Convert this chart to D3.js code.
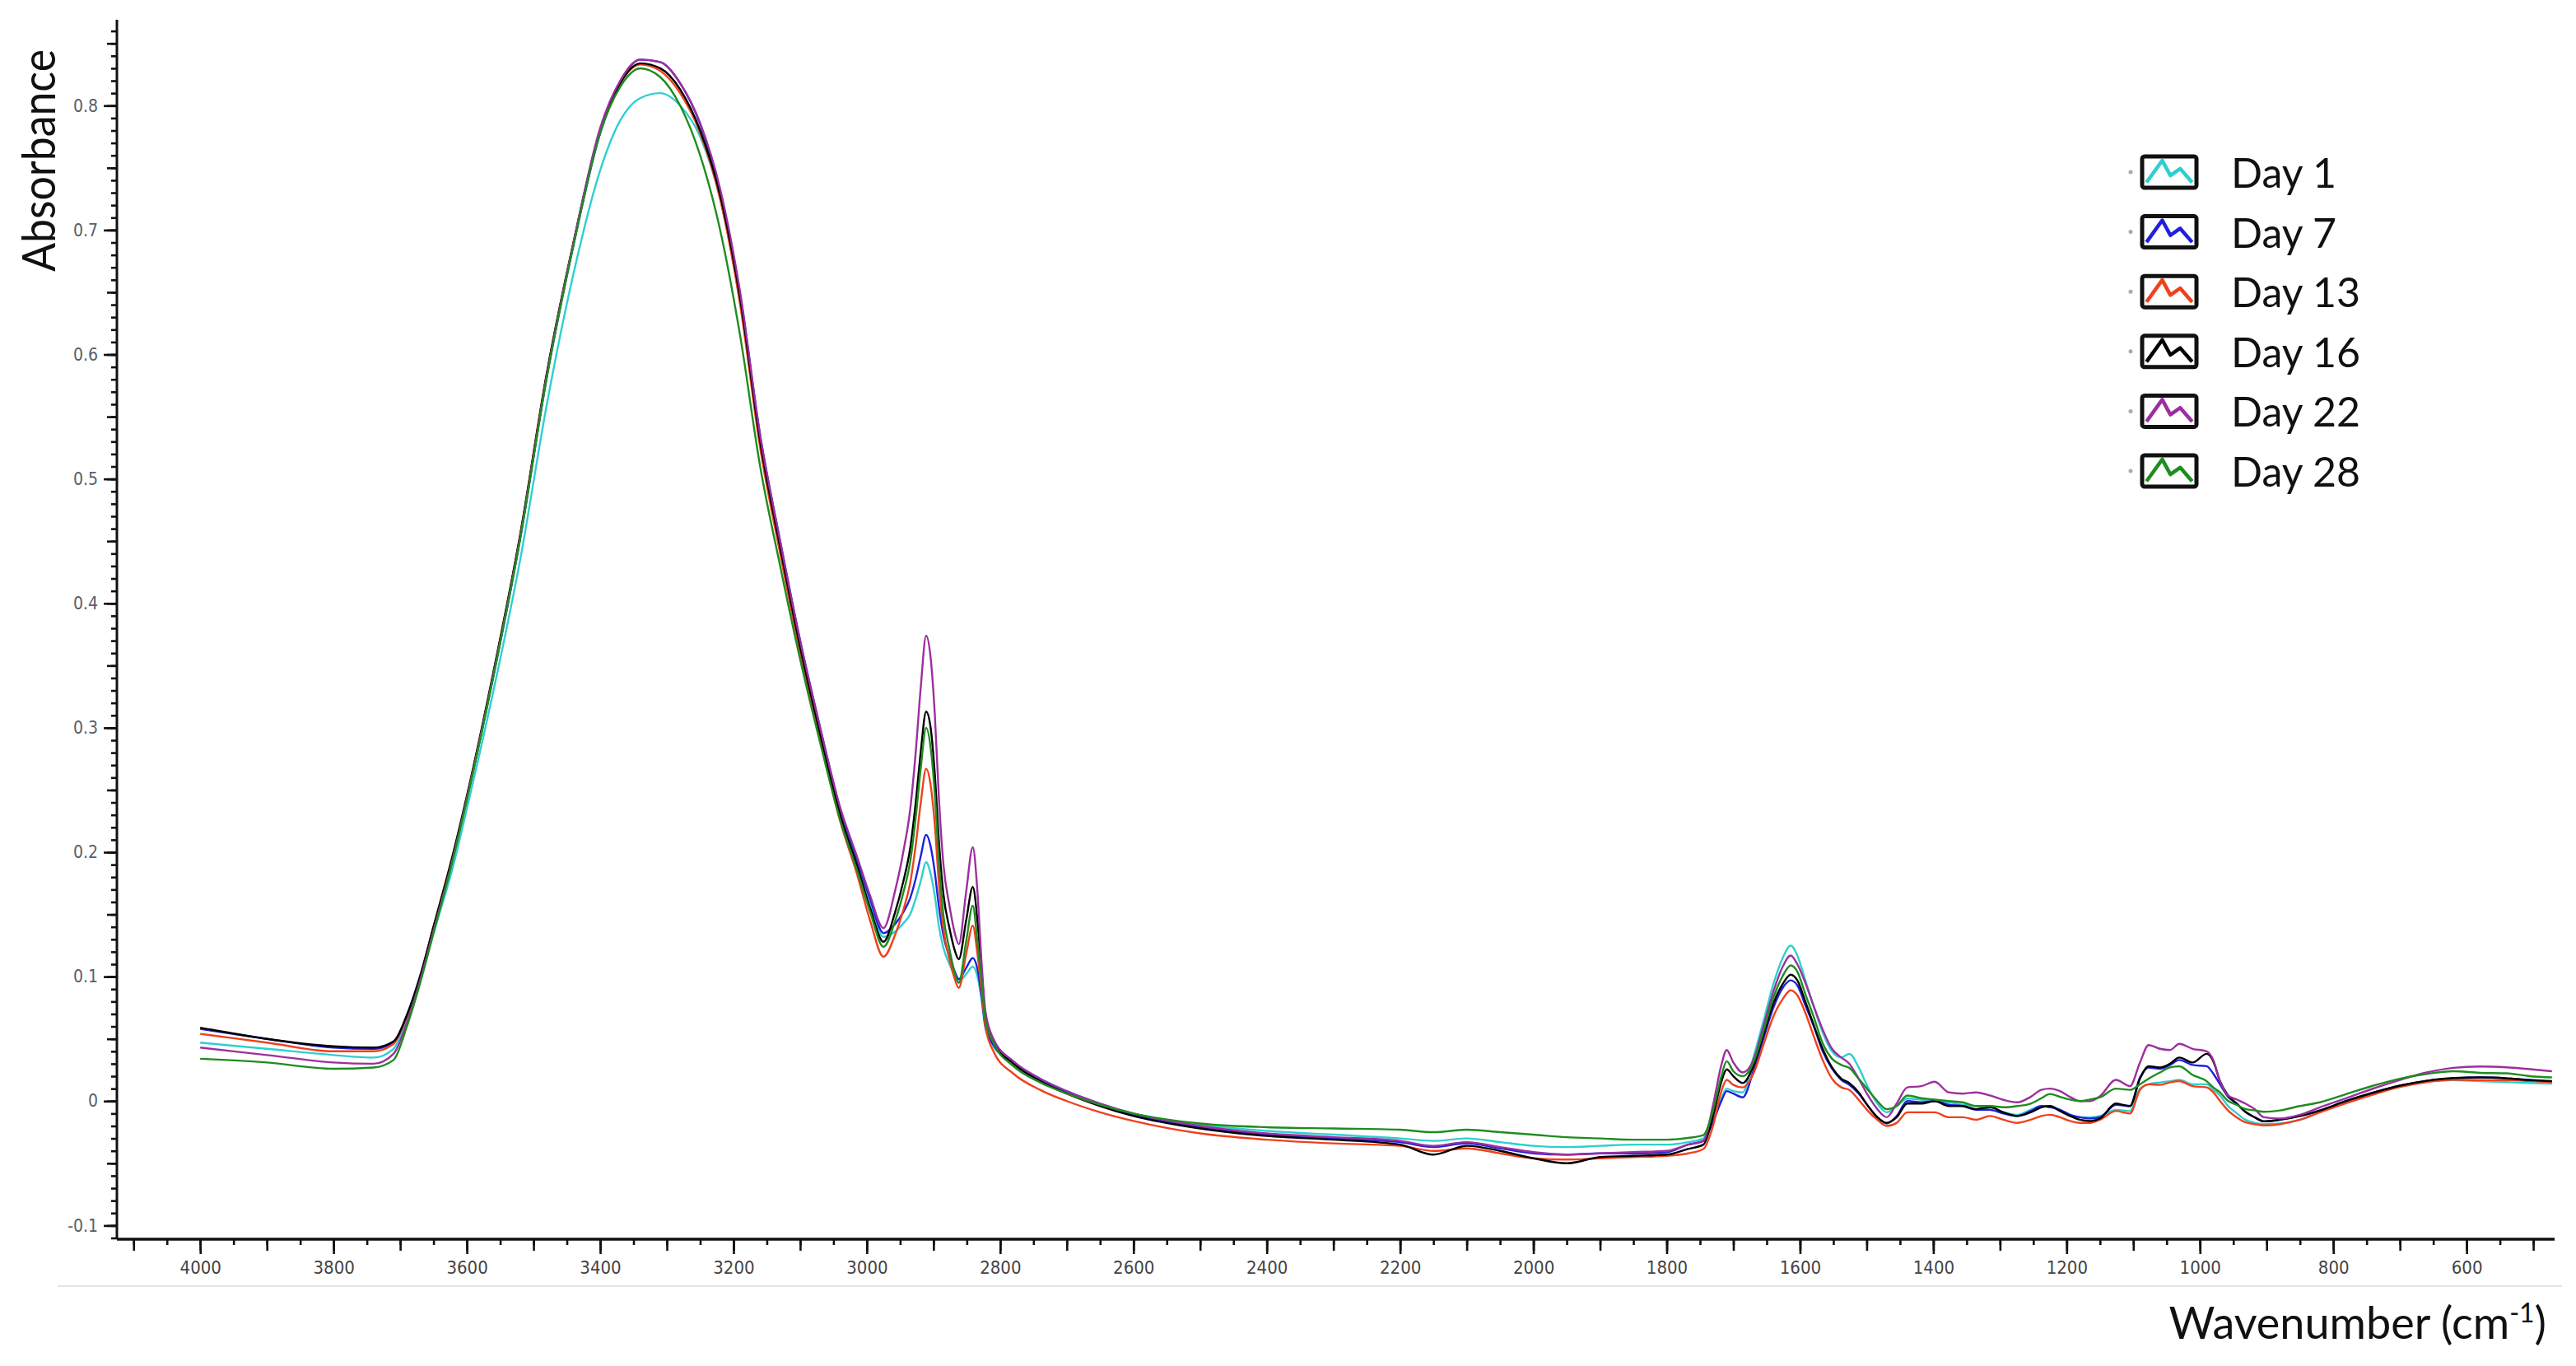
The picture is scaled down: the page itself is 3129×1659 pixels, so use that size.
<!DOCTYPE html>
<html>
<head>
<meta charset="utf-8">
<script src="https://cdn.jsdelivr.net/npm/d3@7"></script>
<style>
  body { margin: 0; background: #fff; }
  svg { display: block; }
</style>
</head>
<body>
<div id="chart"></div>
<script>
// wavenumber grid (cm-1), shared by every spectrum
const wavenumbers = [
  4000, 3900, 3800, 3740, 3710,
  3690, 3670, 3650, 3620, 3600, 3560, 3520, 3480, 3440, 3400, 3370, 3340, 3310, 3280, 3250, 3220, 3190, 3160, 3130, 3100, 3070, 3040, 3015, 2995,
  2975, 2958, 2945, 2935, 2927, 2919, 2911, 2904, 2898, 2892, 2885, 2876, 2868, 2862, 2851, 2841, 2834, 2828, 2822, 2810,
  2780, 2740, 2700, 2650, 2600, 2500, 2400, 2300, 2200, 2150, 2100, 2050, 2000, 1950, 1900, 1850, 1800,
  1768, 1745, 1730, 1718, 1710, 1700, 1686, 1670, 1655, 1640, 1626, 1614, 1604, 1592, 1580, 1566, 1552, 1538, 1526, 1512, 1498, 1484, 1470,
  1455, 1439, 1418, 1398, 1377, 1356, 1336, 1315, 1295, 1274, 1254, 1238, 1225, 1210, 1195, 1180, 1165, 1150,
  1126, 1105, 1090, 1077, 1060, 1045, 1031, 1011, 990, 980, 970, 958, 945, 932, 918, 904,
  880, 850, 820, 780, 740, 700, 660, 620, 580, 540, 505, 472
];

// absorbance
const day1 = [
  .047, .042, .037, .035, .042,
  .066, .098, .135, .19, .235, .33, .435, .56, .665, .748, .788, .806, .81, .80, .775, .725, .642, .53, .445, .365, .296, .232, .192, .157,
  .132, .136, .143, .150, .162, .177, .192, .182, .165, .141, .123, .110, .101, .096, .102, .108, .100, .082, .058, .044,
  .031, .018, .008, -.002, -.010, -.019, -.024, -.027, -.030, -.032, -.030, -.033, -.036, -.037, -.036, -.035, -.035,
  -.033, -.030, -.013, .002, .010, .008, .007, .035, .064, .094, .115, .125, .117, .097, .077, .055, .040, .035, .038, .027, .011, -.002, -.009,
  -.004, .002, .001, .000, -.001, -.003, -.004, -.007, -.009, -.011, -.007, -.004, -.004, -.007, -.011, -.013, -.013, -.012,
  -.007, -.008, .010, .0135, .015, .016, .017, .0135, .0135, .009, .0046, -.004, -.0097, -.015, -.0174, -.0185,
  -.018, -.015, -.0086, -.001, .0057, .0117, .0157, .0168, .016, .0152, .0146, .014
];
const day7 = [
  .058, .050, .043, .042, .047,
  .069, .101, .14, .198, .243, .342, .452, .582, .688, .778, .818, .837, .835, .818, .785, .73, .648, .535, .45, .37, .30, .235, .195, .162,
  .135, .142, .152, .163, .178, .197, .214, .204, .184, .157, .133, .116, .104, .098, .107, .115, .106, .085, .060, .045,
  .031, .017, .007, -.003, -.011, -.021, -.027, -.030, -.033, -.037, -.034, -.038, -.042, -.043, -.042, -.042, -.041,
  -.035, -.032, -.016, .000, .008, .006, .003, .024, .050, .075, .091, .097, .093, .077, .061, .040, .026, .017, .013, .006, -.004, -.013, -.018,
  -.012, .000, -.001, .000, -.003, -.004, -.007, -.007, -.010, -.012, -.008, -.004, -.005, -.007, -.011, -.013, -.014, -.013,
  -.003, -.004, .019, .027, .026, .029, .033, .029, .028, .022, .0135, .0035, -.002, -.0086, -.013, -.0163,
  -.015, -.012, -.0075, .0002, .0068, .0124, .0163, .0183, .019, .0183, .017, .016
];
const day13 = [
  .054, .047, .040, .040, .046,
  .068, .10, .14, .20, .245, .345, .455, .585, .69, .78, .818, .833, .828, .81, .778, .725, .64, .525, .44, .36, .29, .225, .183, .145,
  .116, .133, .154, .175, .204, .240, .267, .253, .222, .176, .138, .114, .098, .091, .118, .141, .118, .090, .060, .040,
  .022, .009, .000, -.009, -.016, -.026, -.031, -.034, -.036, -.040, -.038, -.042, -.046, -.047, -.046, -.045, -.044,
  -.042, -.0385, -.019, .008, .017, .013, .011, .022, .045, .068, .082, .089, .085, .071, .053, .033, .018, .011, .009, .001, -.008, -.015, -.020,
  -.0175, -.009, -.009, -.009, -.013, -.013, -.015, -.012, -.015, -.0175, -.015, -.012, -.011, -.013, -.016, -.0175, -.0175, -.015,
  -.008, -.010, .009, .0135, .013, .015, .016, .012, .011, .007, .0002, -.0075, -.013, -.017, -.0185, -.0196,
  -.0185, -.015, -.009, -.0015, .0053, .0113, .0152, .0172, .0168, .0168, .0161, .015
];
const day16 = [
  .059, .050, .044, .043, .048,
  .069, .10, .14, .20, .245, .345, .455, .585, .69, .78, .818, .834, .83, .813, .78, .728, .645, .53, .445, .365, .295, .23, .19, .155,
  .128, .151, .177, .203, .238, .281, .313, .299, .263, .210, .166, .139, .121, .114, .145, .172, .145, .105, .068, .048,
  .030, .016, .006, -.004, -.012, -.022, -.028, -.031, -.035, -.043, -.036, -.040, -.046, -.050, -.045, -.044, -.043,
  -.0385, -.035, -.011, .0156, .0255, .020, .0145, .028, .053, .0785, .094, .1016, .097, .080, .062, .042, .027, .018, .0145, .007, -.004, -.013, -.0175,
  -.013, -.002, -.002, .000, -.004, -.004, -.0065, -.005, -.009, -.012, -.009, -.005, -.004, -.008, -.012, -.015, -.016, -.014,
  -.002, -.004, .018, .028, .027, .030, .035, .031, .038, .032, .016, .0046, -.002, -.0086, -.013, -.0163,
  -.015, -.012, -.0075, .0002, .0068, .0124, .0163, .0185, .019, .0183, .0168, .016
];
const day22 = [
  .043, .037, .031, .030, .038,
  .063, .097, .137, .197, .243, .343, .453, .583, .69, .782, .82, .837, .835, .818, .786, .733, .65, .535, .45, .37, .30, .236, .197, .165,
  .139, .168, .201, .234, .278, .333, .374, .355, .311, .245, .190, .157, .135, .126, .168, .204, .168, .113, .072, .050,
  .032, .018, .008, -.002, -.010, -.020, -.026, -.029, -.032, -.036, -.033, -.037, -.041, -.043, -.042, -.041, -.040,
  -.035, -.032, -.002, .029, .041, .031, .023, .033, .060, .088, .108, .117, .110, .095, .077, .0575, .042, .035, .030, .018, .0045, -.0065, -.013,
  -.002, .011, .012, .0156, .007, .006, .007, .0045, .001, -.001, .0034, .009, .010, .008, .0034, .000, .000, .004,
  .017, .012, .031, .045, .042, .041, .046, .042, .040, .033, .016, .0046, .0013, -.002, -.0064, -.013,
  -.014, -.011, -.005, .0024, .0101, .017, .023, .0267, .0278, .0271, .0256, .024
];
const day28 = [
  .034, .031, .026, .027, .033,
  .060, .095, .135, .196, .242, .342, .452, .582, .688, .778, .815, .83, .823, .80, .76, .70, .615, .51, .43, .355, .288, .226, .186, .152,
  .124, .144, .168, .192, .226, .268, .300, .283, .247, .194, .149, .122, .103, .095, .128, .157, .128, .098, .065, .047,
  .028, .015, .006, -.003, -.010, -.018, -.021, -.022, -.023, -.025, -.023, -.025, -.027, -.029, -.030, -.031, -.031,
  -.0296, -.0274, -.0065, .020, .032, .024, .020, .031, .056, .083, .1005, .109, .104, .086, .0685, .0465, .034, .029, .0266, .018, .009, .000, -.0065,
  -.004, .0045, .0023, .0012, .000, -.001, -.004, -.004, -.005, -.004, -.002, .0023, .0057, .0034, .0012, .000, .0012, .003,
  .010, .009, .0135, .018, .023, .027, .028, .021, .016, .011, .007, .0002, -.003, -.0064, -.0075, -.0086,
  -.0075, -.004, -.001, .0057, .0124, .018, .0218, .024, .0227, .0223, .020, .019
];

const seriesNames = ["Day 1", "Day 7", "Day 13", "Day 16", "Day 22", "Day 28"];
const seriesColors = ["#2fcfcf", "#1f1fe0", "#f0401c", "#000000", "#9c2fa0", "#1f8c1f"];
const seriesValues = [day1, day7, day13, day16, day22, day28];

const xTickValues = [4000, 3800, 3600, 3400, 3200, 3000, 2800, 2600, 2400, 2200, 2000, 1800, 1600, 1400, 1200, 1000, 800, 600];
const yTickValues = [-0.1, 0, 0.1, 0.2, 0.3, 0.4, 0.5, 0.6, 0.7, 0.8];

const W = 3129, H = 1659;
const area = {left: 142, right: 3103, top: 24, bottom: 1505};

const svg = d3.select("#chart").append("svg")
    .attr("width", W)
    .attr("height", H);
svg.append("rect").attr("width", W).attr("height", H).attr("fill", "#fff");

const x = d3.scaleLinear().domain([4125, 468]).range([area.left, area.right]);
const y = d3.scaleLinear().domain([-0.111, 0.869]).range([area.bottom, area.top]);

// faint rule under the wavenumber labels
svg.append("line")
    .attr("x1", 70).attr("x2", 3112)
    .attr("y1", 1562).attr("y2", 1562)
    .attr("stroke", "#e4e4e4").attr("stroke-width", 2);

// x axis: small ticks every 50, medium every 100, labelled every 200
const xSmall = d3.range(4100, 460, -50);
const xMedium = d3.range(4100, 460, -100);

function addAxis(axis, transform) {
    const g = svg.append("g").attr("transform", transform).call(axis);
    g.select(".domain").remove();
    g.selectAll(".tick line").attr("stroke", "#111").attr("stroke-width", 2.6);
    return g;
}

addAxis(d3.axisBottom(x).tickValues(xSmall).tickSize(7).tickFormat(""), `translate(0,${area.bottom})`);
addAxis(d3.axisBottom(x).tickValues(xMedium).tickSize(14).tickFormat(""), `translate(0,${area.bottom})`);
const gx = addAxis(d3.axisBottom(x).tickValues(xTickValues).tickSize(18).tickPadding(8).tickFormat(d3.format("d")),
    `translate(0,${area.bottom})`);
gx.selectAll("text")
    .style("font-family", "'DejaVu Sans Condensed', 'DejaVu Sans', sans-serif")
    .style("font-size", "22px")
    .attr("fill", "#444");

// y axis: small ticks every 0.01, medium every 0.05, labelled every 0.1
const ySmall = d3.range(-11, 87).map(d => d / 100);
const yMedium = d3.range(-2, 18).map(d => d * 0.05);

addAxis(d3.axisLeft(y).tickValues(ySmall).tickSize(7).tickFormat(""), `translate(${area.left},0)`);
addAxis(d3.axisLeft(y).tickValues(yMedium).tickSize(12).tickFormat(""), `translate(${area.left},0)`);
const gy = addAxis(d3.axisLeft(y).tickValues(yTickValues).tickSize(16).tickPadding(7)
    .tickFormat(d => Math.abs(d) < 1e-9 ? "0" : (d < 0 ? "-" : "") + Math.abs(d).toFixed(1)),
    `translate(${area.left},0)`);
gy.selectAll("text")
    .style("font-family", "'DejaVu Sans Condensed', 'DejaVu Sans', sans-serif")
    .style("font-size", "21px")
    .attr("fill", "#56606a");

// axis lines
svg.append("line")
    .attr("x1", area.left).attr("x2", area.right)
    .attr("y1", area.bottom).attr("y2", area.bottom)
    .attr("stroke", "#111").attr("stroke-width", 3.5);
svg.append("line")
    .attr("x1", area.left).attr("x2", area.left)
    .attr("y1", area.top).attr("y2", area.bottom)
    .attr("stroke", "#111").attr("stroke-width", 3);

// axis titles
svg.append("text")
    .attr("transform", "translate(67,195) rotate(-90)")
    .attr("text-anchor", "middle")
    .attr("textLength", 270)
    .attr("lengthAdjust", "spacingAndGlyphs")
    .style("font-family", "Lato, 'Open Sans', sans-serif")
    .style("font-size", "56px")
    .attr("fill", "#111")
    .text("Absorbance");

const xt = svg.append("text")
    .attr("x", 3093).attr("y", 1626)
    .attr("text-anchor", "end")
    .style("font-family", "Lato, 'Open Sans', sans-serif")
    .style("font-size", "54px")
    .attr("fill", "#111");
xt.append("tspan").text("Wavenumber  (cm");
xt.append("tspan").attr("dy", -20).style("font-size", "32px").text("-1");
xt.append("tspan").attr("dy", 20).text(")");

// spectra
const line = d3.line()
    .x((d, i) => x(wavenumbers[i]))
    .y(d => y(d))
    .curve(d3.curveMonotoneX);

svg.append("g").selectAll("path")
    .data(seriesValues)
    .enter().append("path")
    .attr("d", d => line(d))
    .attr("fill", "none")
    .attr("stroke", (d, i) => seriesColors[i])
    .attr("stroke-width", 2.4)
    .attr("stroke-linejoin", "round");

// legend
const legend = svg.append("g");
const glyph = [[0.08, 0.83], [0.37, 0.13], [0.52, 0.61], [0.70, 0.39], [0.92, 0.83]];
seriesNames.forEach(function(name, i) {
    const base = 228 + i * 72.6;
    const bx = 2602, bw = 66, bh = 38, by = base - bh;
    legend.append("circle")
        .attr("cx", 2588).attr("cy", by + bh / 2).attr("r", 2.5)
        .attr("fill", "#aaa");
    legend.append("rect")
        .attr("x", bx).attr("y", by).attr("width", bw).attr("height", bh)
        .attr("rx", 3)
        .attr("fill", "#fff").attr("stroke", "#111").attr("stroke-width", 5);
    legend.append("path")
        .attr("d", d3.line()(glyph.map(p => [bx + p[0] * bw, by + p[1] * bh])))
        .attr("fill", "none")
        .attr("stroke", seriesColors[i])
        .attr("stroke-width", 4.5)
        .attr("stroke-linejoin", "round");
    legend.append("text")
        .attr("x", 2710).attr("y", base)
        .style("font-family", "Lato, 'Open Sans', sans-serif")
        .style("font-size", "50px")
        .attr("fill", "#111")
        .text(name);
});
</script>
</body>
</html>
